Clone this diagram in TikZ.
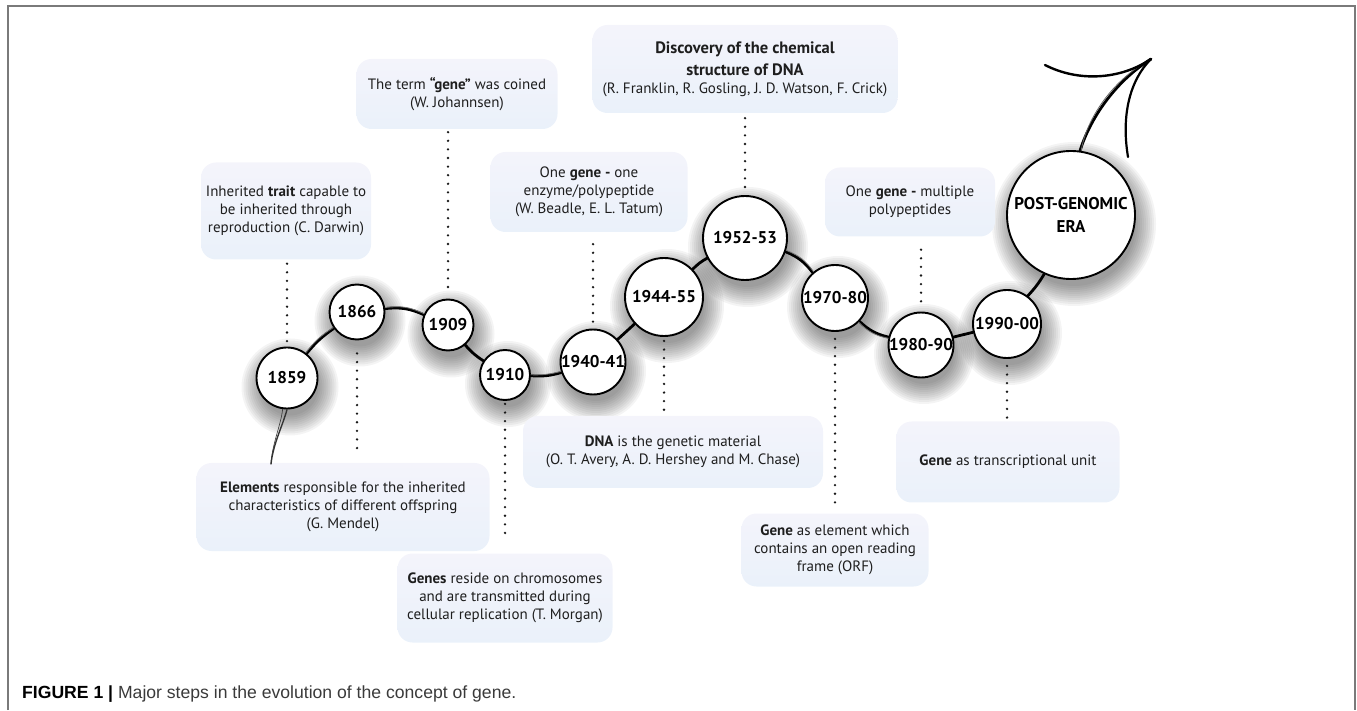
\documentclass[tikz,border=0pt]{standalone}
\usepackage{fontspec}
\setmainfont{PT Sans}
\newfontfamily\capfont{Liberation Sans}
\usetikzlibrary{calc}
\pgfdeclarelayer{bg}
\pgfsetlayers{bg,main}
\definecolor{boxtop}{HTML}{F4F4FB}
\definecolor{boxbot}{HTML}{EAF1FA}
\definecolor{framegray}{HTML}{7A7A7A}
\definecolor{captxt}{HTML}{3A3A3A}
\definecolor{bodytxt}{HTML}{1E1E1E}
\newcommand{\bigtitle}[1]{{\fontsize{16.5}{20}\selectfont\textbf{#1}}}
\begin{document}
\begin{tikzpicture}[x=1pt,y=1pt,
  yr/.style={circle, draw=black, line width=1.9pt, fill=white, inner sep=0pt,
    minimum size=#1, text=black, font=\fontsize{17}{23}\selectfont\bfseries, align=center},
  softshadow/.style={fill=black, opacity=0.042},
  info/.style={rounded corners=15pt, top color=boxtop, bottom color=boxbot, draw=none,
    align=center, text=bodytxt, font=\fontsize{15}{18}\selectfont, inner sep=0pt},
  conn/.style={draw=black, line width=2.8pt, line cap=round},
  connb/.style={draw=black!55, line width=0.8pt, line cap=round},
  tailline/.style={draw=black!80, line width=1.4pt, line cap=round},
  arrowline/.style={draw=black, line width=2.8pt, line cap=round},
  dotline/.style={draw=black!90, line width=2.6pt, line cap=round, dash pattern=on 0pt off 8.6pt}
]
\useasboundingbox (0,0) rectangle (1357,710);

% frame
\draw[framegray, line width=1.5pt] (8,0) -- (8,704) -- (1355,704) -- (1355,0);

% info boxes
\node[info, minimum width=170pt, minimum height=97pt] (darwin) at (286,499)
  {Inherited \textbf{trait} capable to\\be inherited through\\reproduction (C. Darwin)};
\node[info, minimum width=201pt, minimum height=70pt] (johann) at (457,616)
  {The term \textbf{“gene”} was coined\\(W. Johannsen)};
\node[info, minimum width=197pt, minimum height=80pt] (beadle) at (589,518)
  {One \textbf{gene -} one\\enzyme/polypeptide\\(W. Beadle, E. L. Tatum)};
\node[info, minimum width=305pt, minimum height=88pt] (franklin) at (745,641)
  {\bigtitle{Discovery of the chemical}\\[4pt]\bigtitle{structure of DNA}\\(R. Franklin, R. Gosling, J. D. Watson, F. Crick)};
\node[info, minimum width=170pt, minimum height=69pt] (multi) at (910,508)
  {One \textbf{gene -} multiple\\polypeptides};
\node[info, minimum width=293pt, minimum height=88pt] (mendel) at (343,203)
  {\textbf{Elements} responsible for the inherited\\characteristics of different offspring\\(G. Mendel)};
\node[info, minimum width=215pt, minimum height=89pt] (morgan) at (505,112)
  {\textbf{Genes} reside on chromosomes\\and are transmitted during\\cellular replication (T. Morgan)};
\node[info, minimum width=300pt, minimum height=72pt] (avery) at (673,258)
  {\textbf{DNA} is the genetic material\\(O. T. Avery, A. D. Hershey and M. Chase)};
\node[info, minimum width=187pt, minimum height=73pt] (orf) at (835,160)
  {\textbf{Gene} as element which\\contains an open reading\\frame (ORF)};
\node[info, minimum width=223pt, minimum height=81pt] (trans) at (1008,248)
  {\textbf{Gene} as transcriptional unit};

% year circles
\node[yr=61pt] (c1859) at (287,332) {1859};
\node[yr=55pt] (c1866) at (357,398) {1866};
\node[yr=51pt] (c1909) at (448,385) {1909};
\node[yr=50pt] (c1910) at (505,335) {1910};
\node[yr=64pt] (c1940) at (593,348) {1940-41};
\node[yr=78pt] (c1944) at (664,413) {1944-55};
\node[yr=84pt] (c1952) at (745,472) {1952-53};
\node[yr=66pt] (c1970) at (835,412) {1970-80};
\node[yr=64pt] (c1980) at (921,365) {1980-90};
\node[yr=68pt] (c1990) at (1007,386) {1990-00};
\node[yr=128pt] (cpost) at (1071,495) {POST-GENOMIC\\ERA};

% soft shadows behind the circles
\begin{pgfonlayer}{bg}
\foreach \n/\r in {c1859/30.5, c1866/27.5, c1909/25.5, c1910/25, c1940/32, c1944/39,
                   c1952/42, c1970/33, c1980/32, c1990/34, cpost/64}{
  \foreach \k in {0,...,10}{
    \fill[softshadow] ($(\n.center)+(3,-9)$) circle ({\r+18-2*\k});
  }
}
\end{pgfonlayer}

% connectors between circles
\draw[conn] (c1859) to[bend left=8] (c1866);
\draw[conn] (c1866) to[bend left=15] (c1909);
\draw[conn] (c1909) to[bend right=8] (c1910);
\draw[conn] (c1910) to[bend right=10] (c1940);
\draw[conn] (c1940) to (c1944);
\draw[conn] (c1944) to[bend left=8] (c1952);
\draw[conn] (c1952) to[bend left=15] (c1970);
\draw[conn] (c1970) to[bend right=15] (c1980);
\draw[conn] (c1980) to (c1990);
\draw[conn] (c1990) to[bend right=6] (cpost);
% sketchy hairlines
\draw[connb] (c1859) to[bend left=10] (c1866);
\draw[connb] (c1866) to[bend left=17] (c1909);
\draw[connb] (c1910) to[bend right=8] (c1940);
\draw[connb] (c1952) to[bend left=17] (c1970);
\draw[connb] (c1970) to[bend right=17] (c1980);

% tail
\coordinate (tailend) at (271,246);
\draw[tailline] (c1859.south) .. controls (283,285) and (273,266) .. (tailend);
\draw[tailline, line width=0.6pt] (c1859.262) .. controls (281,285) and (272,266) .. (tailend);

% arrow
\coordinate (tip) at (1151,651);
\coordinate (barbL) at (1045,645);
\coordinate (barbR) at (1128,553);
\draw[arrowline] (cpost.82) .. controls (1088,585) and (1110,625) .. (tip);
\draw[arrowline, line width=0.8pt, draw=black!60] (cpost.81) .. controls (1085,585) and (1107,627) .. (tip);
\draw[arrowline, line width=2.4pt] (barbL) .. controls (1078,628) and (1120,630) .. (tip);
\draw[arrowline, line width=2.2pt] (tip) .. controls (1130,630) and (1121,595) .. (barbR);

% dotted leaders
\draw[dotline, shorten <=4pt, shorten >=4pt] (darwin.south -| c1859) -- (c1859.north);
\draw[dotline, shorten <=13pt, shorten >=12pt] (c1866.south) -- (c1866.south |- mendel.north);
\draw[dotline, shorten <=3pt, shorten >=9pt] (johann.south -| c1909) -- (c1909.north);
\draw[dotline, shorten <=3pt, shorten >=20pt] (c1910.south) -- (c1910.south |- morgan.north);
\draw[dotline, shorten <=12pt, shorten >=5pt] (beadle.south -| c1940) -- (c1940.north);
\draw[dotline, shorten <=4pt, shorten >=5pt] (c1944.south) -- (c1944.south |- avery.north);
\draw[dotline, shorten <=5pt, shorten >=6pt] (franklin.south -| c1952) -- (c1952.north);
\draw[dotline, shorten <=7pt, shorten >=10pt] (c1970.south) -- (c1970.south |- orf.north);
\draw[dotline, shorten <=13pt, shorten >=8pt] (multi.south -| c1980) -- (c1980.north);
\draw[dotline, shorten <=7pt, shorten >=2pt] (c1990.south) -- (c1990.south |- trans.north);

% caption
\node[anchor=base west, inner sep=0pt, text=captxt, font=\capfont\fontsize{17.6}{20}\selectfont] (caption) at (22,12)
  {\textcolor{black}{\textbf{FIGURE 1 |}} Major steps in the evolution of the concept of gene.};
\end{tikzpicture}
\end{document}
